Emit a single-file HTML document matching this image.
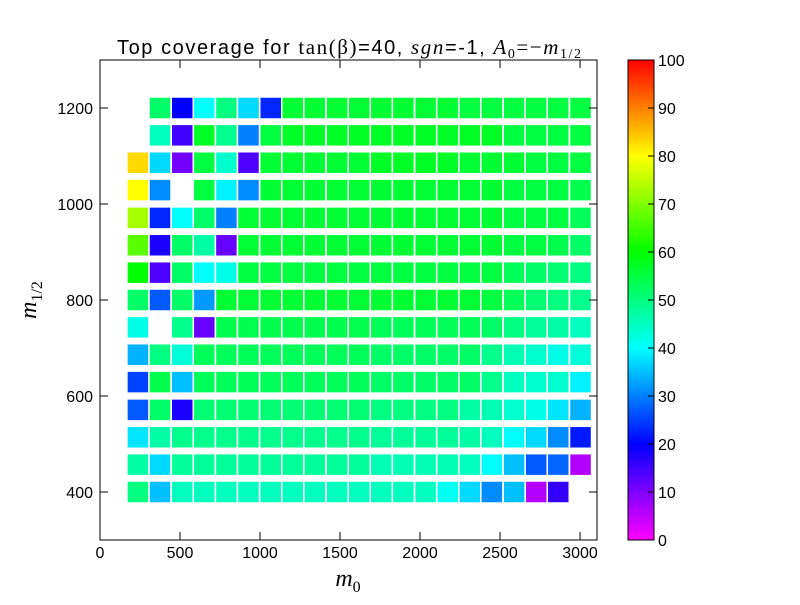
<!DOCTYPE html>
<html><head><meta charset="utf-8"><style>
body{margin:0;background:#fff;}
</style></head><body>
<svg id="chart" width="800" height="600" xmlns="http://www.w3.org/2000/svg" font-family="Liberation Sans, sans-serif">
<rect width="800" height="600" fill="#fff"/>
<text x="349" y="54" font-size="20" text-anchor="middle" textLength="464" lengthAdjust="spacing">Top coverage for <tspan font-family="Liberation Serif, serif" font-size="21">tan(β)</tspan>=40, <tspan font-family="Liberation Serif, serif" font-style="italic" font-size="21">sgn</tspan>=-1, <tspan font-family="Liberation Serif, serif" font-style="italic" font-size="21">A</tspan><tspan font-family="Liberation Serif, serif" font-size="14" dy="4">0</tspan><tspan dy="-4" font-family="Liberation Serif, serif" font-size="21">=−</tspan><tspan font-family="Liberation Serif, serif" font-style="italic" font-size="21">m</tspan><tspan font-family="Liberation Serif, serif" font-size="14" dy="4">1/2</tspan></text>
<g id="cells"></g>
<rect x="100" y="60" width="497" height="480" fill="none" stroke="#000" stroke-width="1"/>
<g id="axes"></g>
<text x="348" y="586" font-size="24" font-family="Liberation Serif, serif" font-style="italic" text-anchor="middle">m<tspan font-size="16" dy="6" font-style="normal">0</tspan></text>
<text transform="translate(36,300) rotate(-90)" font-size="24" font-family="Liberation Serif, serif" font-style="italic" text-anchor="middle">m<tspan font-size="16" dy="6" font-style="normal">1/2</tspan></text>
<defs><linearGradient id="cbg" x1="0" y1="1" x2="0" y2="0"></linearGradient></defs>
<rect x="628" y="60" width="26" height="480" fill="url(#cbg)" stroke="#000" stroke-width="1"/>
<g id="cbaxis"></g>
</svg>
<script>
const xTicks=[0,500,1000,1500,2000,2500,3000];
const yTicks=[400,600,800,1000,1200];
const cbTicks=[0,10,20,30,40,50,60,70,80,90,100];
const m0Values=[237,375,514,652,790,928,1067,1205,1343,1482,1620,1758,1896,2035,2173,2311,2449,2588,2726,2864,3003];
const m12Values=[1200,1143,1086,1029,971,914,857,800,743,686,629,571,514,457,400];
const N=null;
const row1200=[N,52,20,40,50,37,23,56,56,56,56,56,56,56,56,55,55,55,55,55,55];
const row1143=[N,45,15,57,49,30,55,57,57,57,57,57,57,57,57,57,57,55,55,55,55];
const row1086=[83,37,11,55,44,14,56,56,56,56,56,57,57,57,57,56,56,56,55,55,55];
const row1029=[80,31,N,55,39,31,56,56,56,56,56,56,56,56,56,56,56,55,55,55,54];
const row971=[73,23,40,52,30,56,56,56,56,56,56,56,56,56,56,56,56,55,55,55,53];
const row914=[67,18,52,47,12,56,56,56,56,56,56,56,56,56,56,56,56,55,55,54,52];
const row857=[60,14,52,40,42,55,55,55,55,55,55,55,55,55,55,55,55,53,52,51,50];
const row800=[52,27,52,32,56,56,56,56,56,56,56,56,56,56,56,56,55,53,51,50,49];
const row743=[42,N,49,12,54,54,54,54,54,54,54,53,53,53,53,53,52,50,48,47,45];
const row686=[34,50,43,53,53,53,53,53,53,53,53,52,52,52,52,52,49,46,44,42,43];
const row629=[25,54,35,53,53,53,53,53,53,53,53,52,52,52,52,52,49,45,44,44,39];
const row571=[27,52,18,51,51,51,51,51,51,51,51,50,50,50,50,47,46,44,42,38,34];
const row514=[38,47,49,49,49,49,49,49,49,49,49,48,48,48,48,47,45,40,37,31,22];
const row457=[47,37,48,48,48,48,48,48,48,48,48,46,46,46,46,45,40,35,27,28,6];
const row400=[50,35,45,45,45,45,45,45,45,45,45,45,45,45,41,37,31,35,6,16,N];
const coverageRows=[row1200,row1143,row1086,row1029,row971,row914,row857,row800,row743,row686,row629,row571,row514,row457,row400];

const NS="http://www.w3.org/2000/svg";
const X=v=>100+(v-0)*497/3106;
const Y=v=>540-(v-300)*480/1000;
const CBY=v=>540-v*4.8;
const color=v=>`hsl(${Math.min(300,3*(100-v))},100%,50%)`;
function mk(tag,attrs,parent){const e=document.createElementNS(NS,tag);for(const k in attrs)e.setAttribute(k,attrs[k]);parent.appendChild(e);return e;}
const cells=document.getElementById('cells');
coverageRows.forEach((row,ri)=>{row.forEach((v,ci)=>{
 if(v===null)return;
 const r=mk('rect',{x:X(m0Values[ci])-10.5,y:Y(m12Values[ri])-10.5,width:21,height:21,fill:color(v),stroke:'#fff','stroke-width':0.5},cells);
 
 
});});
const axes=document.getElementById('axes');
xTicks.forEach(t=>{const x=X(t);
 mk('line',{x1:x,y1:540,x2:x,y2:532,stroke:'#000'},axes);
 mk('line',{x1:x,y1:60,x2:x,y2:68,stroke:'#000'},axes);
 const tx=mk('text',{x:x,y:558,'font-size':16,'text-anchor':'middle'},axes);tx.textContent=t;
 
 
});
yTicks.forEach(t=>{const y=Y(t);
 mk('line',{x1:100,y1:y,x2:108,y2:y,stroke:'#000'},axes);
 mk('line',{x1:597,y1:y,x2:589,y2:y,stroke:'#000'},axes);
 const tx=mk('text',{x:93,y:y+6,'font-size':16,'text-anchor':'end'},axes);tx.textContent=t;
 
 
});
const g=document.getElementById('cbg');
for(let v=0;v<=100;v+=5)mk('stop',{offset:(v/100),'stop-color':color(v)},g);
const cb=document.getElementById('cbaxis');
cbTicks.forEach(t=>{const y=CBY(t);
 mk('line',{x1:648,y1:y,x2:654,y2:y,stroke:'#000'},cb);
 const tx=mk('text',{x:658,y:y+6,'font-size':16},cb);tx.textContent=t;
 
 
});
</script>
</body></html>
